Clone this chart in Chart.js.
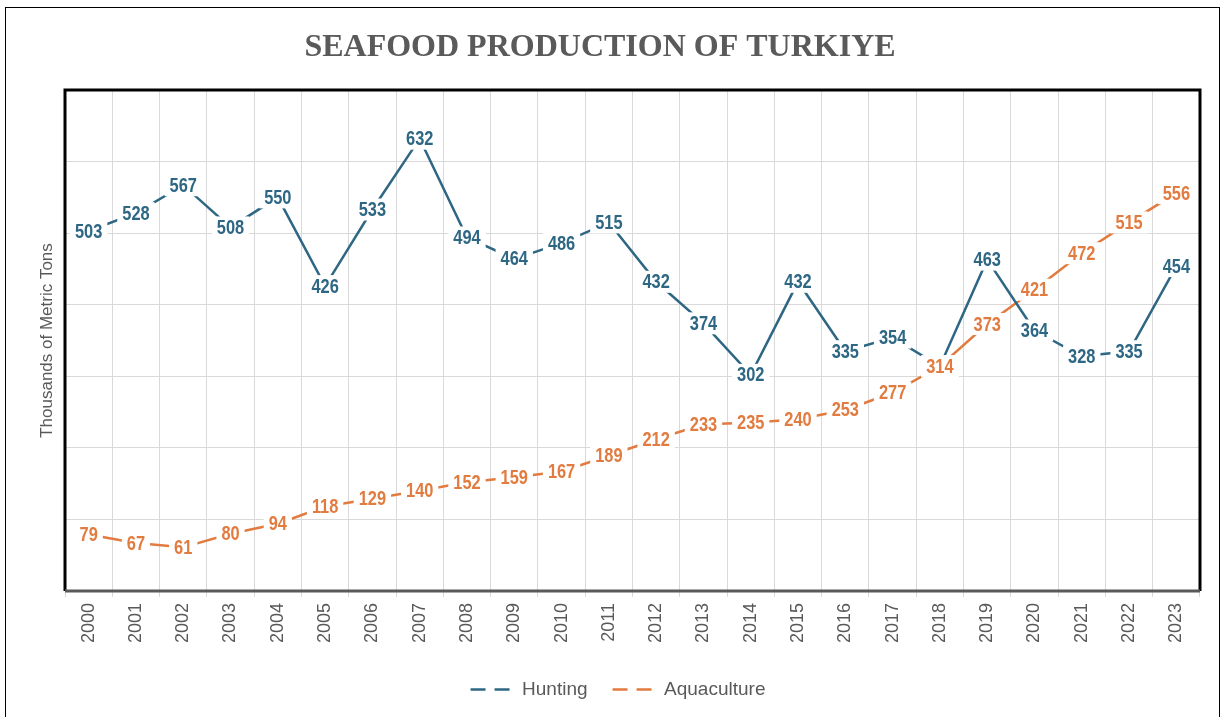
<!DOCTYPE html>
<html>
<head>
<meta charset="utf-8">
<script src="https://cdn.jsdelivr.net/npm/chart.js@4.4.0/dist/chart.umd.min.js"></script>
<style>
    html, body { margin: 0; padding: 0; background: #fff; }
    #marco { position: absolute; left: 5px; top: 7px; width: 1215px; height: 720px; border: 1px solid #000; box-sizing: border-box; }
    #caja { position: absolute; left: 0; top: 0; width: 1225px; height: 717px; }
</style>
</head>
<body>
<div id="marco"></div>
<div id="caja"><canvas id="graph_seafood" width="1225" height="717"></canvas></div>
<script>
// ############################## SEAFOOD PRODUCTION OF TURKIYE ############################### //
const anios = ['2000','2001','2002','2003','2004','2005','2006','2007','2008','2009','2010','2011',
               '2012','2013','2014','2015','2016','2017','2018','2019','2020','2021','2022','2023'];
const hunting = [503, 528, 567, 508, 550, 426, 533, 632, 494, 464, 486, 515,
                 432, 374, 302, 432, 335, 354, 314, 463, 364, 328, 335, 454];
const aquaculture = [79, 67, 61, 80, 94, 118, 129, 140, 152, 159, 167, 189,
                     212, 233, 235, 240, 253, 277, 314, 373, 421, 472, 515, 556];
const ejeY = { min: 0, max: 700, paso: 100 };

const sans = '"Liberation Sans", Arial, sans-serif';

// etiquetas de datos centradas sobre cada punto, con fondo blanco (letra estrechada)
const etiquetas = {
    id: 'etiquetas',
    afterDatasetsDraw(chart) {
        const ctx = chart.ctx;
        const estrecho = 0.82;
        ctx.save();
        ctx.font = 'bold 20px ' + sans;
        ctx.textAlign = 'center';
        ctx.textBaseline = 'middle';
        chart.data.datasets.forEach((ds, i) => {
            const meta = chart.getDatasetMeta(i);
            meta.data.forEach((pt, j) => {
                const txt = String(ds.data[j]);
                const w = ctx.measureText(txt).width * estrecho;
                ctx.fillStyle = '#ffffff';
                ctx.fillRect(pt.x - w / 2 - 5, pt.y - 11, w + 10, 22);
                ctx.save();
                ctx.translate(pt.x, pt.y + 1);
                ctx.scale(estrecho, 1);
                ctx.fillStyle = ds.labelColor;
                ctx.fillText(txt, 0, 0);
                ctx.restore();
            });
        });
        ctx.restore();
    }
};

// marco negro del area de trazado
const marcoArea = {
    id: 'marcoArea',
    afterDraw(chart) {
        const {left, right, top, bottom} = chart.chartArea;
        const ctx = chart.ctx;
        ctx.save();
        ctx.lineWidth = 3;
        ctx.strokeStyle = '#000';
        ctx.beginPath();
        ctx.moveTo(left, bottom);
        ctx.lineTo(left, top);
        ctx.lineTo(right, top);
        ctx.lineTo(right, bottom);
        ctx.stroke();
        ctx.strokeStyle = '#595959';
        ctx.beginPath();
        ctx.moveTo(left, bottom);
        ctx.lineTo(right, bottom);
        ctx.stroke();
        ctx.restore();
    }
};

// la leyenda del original esta algo a la derecha
const moverLeyenda = {
    id: 'moverLeyenda',
    afterLayout(chart) {
        chart.legend.left += 18;
        chart.legend.right += 18;
    }
};

const data_graph = {
    labels: anios,
    datasets: [{
        label: 'Hunting',
        data: hunting,
        borderColor: '#2e6784',
        backgroundColor: '#2e6784',
        labelColor: '#2e6784',
        borderWidth: 2.5,
        pointRadius: 0,
        tension: 0
    },{
        label: 'Aquaculture',
        data: aquaculture,
        borderColor: '#e27b3f',
        backgroundColor: '#e27b3f',
        labelColor: '#e27b3f',
        borderWidth: 2.5,
        pointRadius: 0,
        tension: 0
    }]
};

const config = {
    type: 'line',
    data: data_graph,
    options: {
        responsive: false,
        animation: false,
        layout: { padding: { left: 0, right: 25, top: 0, bottom: 8 } },
        scales: {
            x: {
                offset: true,
                grid: { offset: true, color: '#d9d9d9', tickLength: 6 },
                border: { display: false },
                ticks: {
                    minRotation: 90,
                    maxRotation: 90,
                    padding: 6,
                    color: '#595959',
                    font: { family: sans, size: 18 }
                },
                afterFit: function(scale) { scale.height = 64; }
            },
            y: {
                min: ejeY.min,
                max: ejeY.max,
                ticks: { display: false, stepSize: ejeY.paso },
                grid: { color: '#d9d9d9', drawTicks: false },
                border: { display: false },
                title: {
                    display: true,
                    text: 'Thousands of Metric Tons',
                    color: '#595959',
                    font: { family: sans, size: 17 },
                    padding: { top: 37, bottom: 0 }
                },
                afterFit: function(scale) { scale.width = 65; }
            }
        },
        plugins: {
            title: {
                display: true,
                text: 'SEAFOOD PRODUCTION OF TURKIYE',
                color: '#5a5a5a',
                font: { family: '"Liberation Serif", serif', size: 32, weight: 'bold' },
                padding: { top: 29, bottom: 22.6 }
            },
            legend: {
                position: 'bottom',
                labels: {
                    usePointStyle: true,
                    pointStyleWidth: 42,
                    padding: 25,
                    color: '#595959',
                    font: { family: sans, size: 19 },
                    generateLabels: function(chart) {
                        return chart.data.datasets.map((ds, i) => ({
                            text: ds.label,
                            fillStyle: ds.borderColor,
                            strokeStyle: ds.borderColor,
                            lineWidth: 2.5,
                            lineDash: [15, 9],
                            pointStyle: 'line',
                            fontColor: '#595959',
                            hidden: false,
                            datasetIndex: i
                        }));
                    }
                }
            },
            tooltip: { enabled: false }
        }
    },
    plugins: [etiquetas, marcoArea, moverLeyenda]
};

const seafood_chart = new Chart(
    document.getElementById('graph_seafood'),
    config
);
// ###################################################################################### //
</script>
</body>
</html>
